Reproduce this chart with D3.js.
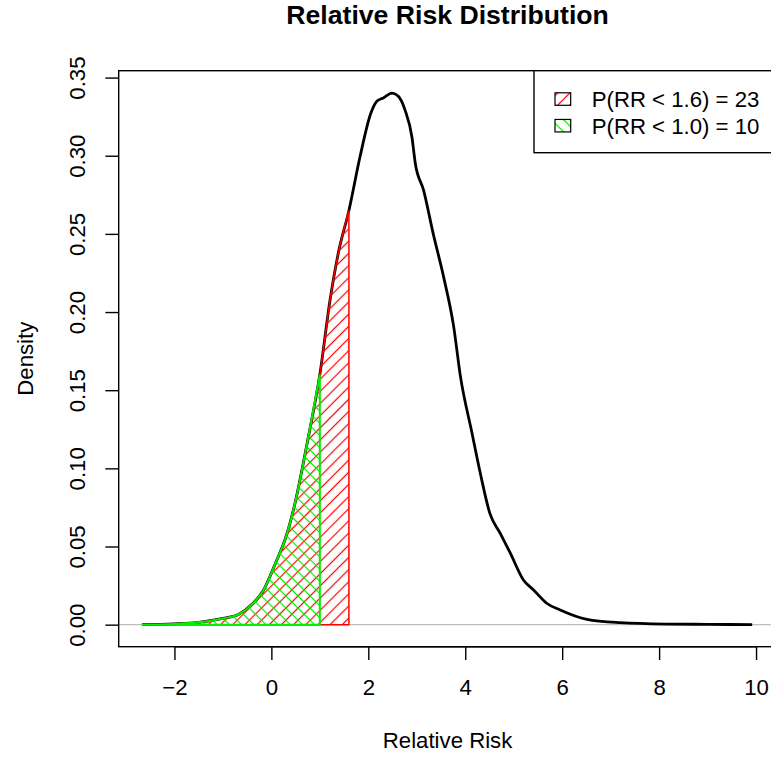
<!DOCTYPE html>
<html>
<head>
<meta charset="utf-8">
<script src="https://cdn.jsdelivr.net/npm/d3@7"></script>
<style>
  body { margin: 0; background: #fff; }
  svg { display: block; font-family: "Liberation Sans", Arial, Helvetica, sans-serif; }
</style>
</head>
<body>
<div class="graph-container"></div>
<script>
// density curve
var riskX = [-2.67, -2.0, -1.5, -1.0, -0.68, -0.4, -0.16, 0.08, 0.32, 0.49, 0.75, 1.0, 1.21, 1.38, 1.6,
    1.83, 2.05, 2.18, 2.31, 2.49, 2.62, 2.76, 2.90, 2.97, 3.14, 3.34, 3.55, 3.76, 3.90, 4.14, 4.31,
    4.51, 4.72, 4.93, 5.20, 5.41, 5.68, 5.96, 6.51, 7.2, 8.16, 9.0, 9.92];
var density = [0.0, 0.0005, 0.0015, 0.004, 0.0065, 0.013, 0.0222, 0.039, 0.058, 0.078, 0.118, 0.160, 0.2075, 0.2376, 0.265,
    0.2995, 0.327, 0.335, 0.337, 0.340, 0.338, 0.329, 0.312, 0.295, 0.278, 0.250, 0.223, 0.191, 0.159, 0.1225, 0.097,
    0.071, 0.0585, 0.0457, 0.0286, 0.0222, 0.0137, 0.0094, 0.0034, 0.0013, 0.0004, 0.0002, 0.0];

// shaded cut-offs and legend
var cutoffs = [1.6, 1.0];
var legendLabels = ['P(RR < 1.6) = 23', 'P(RR < 1.0) = 10'];
var xTicks = [-2, 0, 2, 4, 6, 8, 10];
var yTicks = [0, 0.05, 0.10, 0.15, 0.20, 0.25, 0.30, 0.35];

var svgWidth = 771;
var svgHeight = 757;
var plotLeft = 118.7, plotRight = 776.4, plotTop = 70.7, plotBottom = 646.7;
var fontSize = 22.2;
var lineH = fontSize * 1.2;

var dataset = riskX.map(function(x, i) { return [x, density[i]]; });

var xScale = d3.scaleLinear().domain([-3.15, 10.42]).range([plotLeft, plotRight]);
var yScale = d3.scaleLinear().domain([-0.0141, 0.3544]).range([plotBottom, plotTop]);

var svg = d3.select('.graph-container').append('svg')
    .attr('width', svgWidth)
    .attr('height', svgHeight);

// hatch patterns: red '/', green '\'
var defs = svg.append('defs');
function hatch(id, color, angle) {
    var p = defs.append('pattern')
        .attr('id', id)
        .attr('patternUnits', 'userSpaceOnUse')
        .attr('width', 8.6)
        .attr('height', 8.6)
        .attr('patternTransform', 'rotate(' + angle + ')');
    p.append('line')
        .attr('x1', 4.3).attr('x2', 4.3)
        .attr('y1', -1).attr('y2', 9.6)
        .attr('stroke', color)
        .attr('stroke-width', 1.2);
}
hatch('hatchRed', '#ff0000', 45);
hatch('hatchGreen', '#00ee00', -45);

// zero reference line
svg.append('line')
    .attr('x1', plotLeft).attr('x2', plotRight)
    .attr('y1', yScale(0)).attr('y2', yScale(0))
    .attr('stroke', '#bebebe')
    .attr('stroke-width', 1.4);

var line = d3.line()
    .x(function(d) { return xScale(d[0]); })
    .y(function(d) { return yScale(d[1]); })
    .curve(d3.curveMonotoneX);

var area = d3.area()
    .x(function(d) { return xScale(d[0]); })
    .y0(yScale(0))
    .y1(function(d) { return yScale(d[1]); })
    .curve(d3.curveMonotoneX);

svg.append('path')
    .datum(dataset)
    .attr('d', line)
    .attr('fill', 'none')
    .attr('stroke', '#000')
    .attr('stroke-width', 2.8)
    .attr('stroke-linejoin', 'round');

var fills = ['url(#hatchRed)', 'url(#hatchGreen)'];
var borders = ['#ff0000', '#00ee00'];
var borderWidths = [1.5, 2];

cutoffs.forEach(function(c, i) {
    var part = dataset.filter(function(d) { return d[0] <= c; });
    svg.append('path')
        .datum(part)
        .attr('d', function(d) { return area(d) + 'Z'; })
        .attr('fill', fills[i])
        .attr('stroke', borders[i])
        .attr('stroke-width', borderWidths[i]);
});

// plot box
svg.append('rect')
    .attr('x', plotLeft).attr('y', plotTop)
    .attr('width', plotRight - plotLeft)
    .attr('height', plotBottom - plotTop)
    .attr('fill', 'none')
    .attr('stroke', '#000')
    .attr('stroke-width', 1.4);

// x axis
var xAxis = d3.axisBottom(xScale)
    .tickValues(xTicks)
    .tickSize(lineH * 0.5)
    .tickSizeOuter(0)
    .tickFormat(function(d) { return d < 0 ? '\u2212' + Math.abs(d) : d; });

var gx = svg.append('g')
    .attr('transform', 'translate(0,' + plotBottom + ')')
    .call(xAxis);
gx.select('.domain').remove();
gx.selectAll('.tick line').attr('stroke', '#000').attr('stroke-width', 1.4);
gx.selectAll('.tick text')
    .attr('y', lineH * 1.8)
    .attr('dy', 0)
    .attr('fill', '#000')
    .style('font-size', fontSize + 'px')
    .style('font-family', 'inherit');
gx.append('line')
    .attr('x1', xScale(xTicks[0])).attr('x2', xScale(xTicks[xTicks.length - 1]))
    .attr('stroke', '#000').attr('stroke-width', 1.4);

// y axis
var yAxis = d3.axisLeft(yScale)
    .tickValues(yTicks)
    .tickSize(lineH * 0.5)
    .tickSizeOuter(0)
    .tickFormat(d3.format('.2f'));

var gy = svg.append('g')
    .attr('transform', 'translate(' + plotLeft + ',0)')
    .call(yAxis);
gy.select('.domain').remove();
gy.selectAll('.tick line').attr('stroke', '#000').attr('stroke-width', 1.4);
gy.selectAll('.tick text')
    .attr('x', 0)
    .attr('y', -lineH * 1.25)
    .attr('dy', 0)
    .attr('transform', 'rotate(-90)')
    .attr('text-anchor', 'middle')
    .attr('fill', '#000')
    .style('font-size', fontSize + 'px')
    .style('font-family', 'inherit');

// titles
svg.append('text')
    .attr('x', (plotLeft + plotRight) / 2)
    .attr('y', 24)
    .attr('text-anchor', 'middle')
    .style('font-size', (fontSize * 1.2) + 'px')
    .style('font-weight', 'bold')
    .text('Relative Risk Distribution');

svg.append('text')
    .attr('x', (plotLeft + plotRight) / 2)
    .attr('y', plotBottom + lineH * 3.8)
    .attr('text-anchor', 'middle')
    .style('font-size', fontSize + 'px')
    .text('Relative Risk');

svg.append('text')
    .attr('transform', 'translate(' + (plotLeft - lineH * 3.2) + ',' + ((plotTop + plotBottom) / 2) + ') rotate(-90)')
    .attr('text-anchor', 'middle')
    .style('font-size', fontSize + 'px')
    .text('Density');

// legend
var legend = svg.append('g');
legend.append('rect')
    .attr('x', 534).attr('y', plotTop)
    .attr('width', 260).attr('height', 82)
    .attr('fill', '#fff')
    .attr('stroke', '#000')
    .attr('stroke-width', 1.4);

legendLabels.forEach(function(t, i) {
    var base = 107.3 + i * lineH;
    legend.append('rect')
        .attr('x', 555).attr('y', base - 14.5)
        .attr('width', 15.7).attr('height', 12.5)
        .attr('fill', fills[i])
        .attr('stroke', '#000')
        .attr('stroke-width', 1.2);
    legend.append('text')
        .attr('x', 591.7).attr('y', base)
        .style('font-size', fontSize + 'px')
        .text(t);
});
</script>
</body>
</html>
